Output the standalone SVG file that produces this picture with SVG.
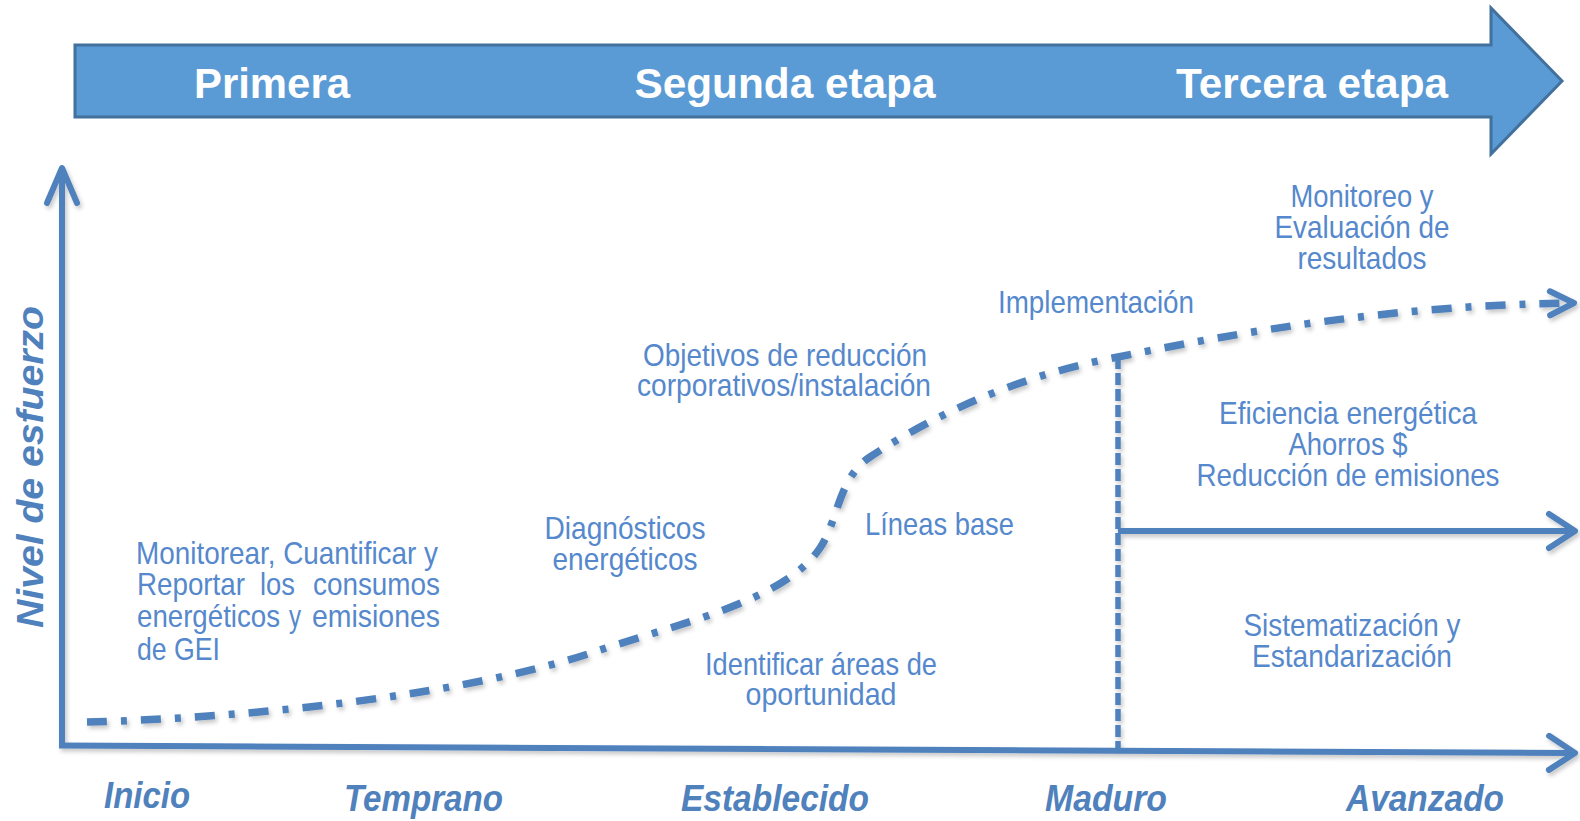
<svg xmlns="http://www.w3.org/2000/svg" width="1580" height="821" viewBox="0 0 1580 821">
  <style>
    .stage { font-family: "Liberation Sans", Arial, sans-serif; font-weight: bold; font-size: 42px; fill: #ffffff; text-anchor: middle; }
    .lbl { font-family: "Liberation Sans Narrow", "Liberation Sans", Arial, sans-serif; font-size: 32px; fill: #5588CC; }
    .mid { text-anchor: middle; }
    .axis { font-family: "Liberation Sans Narrow", "Liberation Sans", Arial, sans-serif; font-size: 37px; font-weight: bold; font-style: italic; fill: #4F81BD; }
    .ln { fill: none; stroke: #4F81BD; stroke-width: 6; }
    .curve { fill: none; stroke: #4F81BD; stroke-width: 7.5; stroke-dasharray: 20 14 6 14; }
    .vdash { fill: none; stroke: #4F81BD; stroke-width: 5.5; stroke-dasharray: 12 4; }
    .head { fill: none; stroke: #4F81BD; stroke-width: 6; stroke-linecap: round; stroke-linejoin: round; }
  </style>
  <defs>
    <filter id="sh" x="-5%" y="-5%" width="110%" height="110%">
      <feDropShadow dx="2" dy="3" stdDeviation="2" flood-color="#000000" flood-opacity="0.22"/>
    </filter>
    <marker id="chevV" markerUnits="userSpaceOnUse" markerWidth="40" markerHeight="40" refX="35" refY="15" orient="auto" overflow="visible">
      <path class="head" d="M 0 0 L 35 15 L 0 30"/>
    </marker>
    <marker id="chevH" markerUnits="userSpaceOnUse" markerWidth="40" markerHeight="40" refX="26" refY="17" orient="auto" overflow="visible">
      <path class="head" d="M 0 0 L 26 17 L 0 34"/>
    </marker>
    <marker id="chevS" markerUnits="userSpaceOnUse" markerWidth="40" markerHeight="40" refX="24" refY="12" orient="auto" overflow="visible">
      <path class="head" d="M 0 0 L 24 12 L 0 24"/>
    </marker>
  </defs>

  <rect width="1580" height="821" fill="#ffffff"/>

  <g id="banner">
    <polygon points="75,45 1491,45 1491,8 1562,81 1491,154 1491,117 75,117" fill="#5B9BD5" stroke="#41719C" stroke-width="3"/>
    <text class="stage" x="272" y="98" textLength="156" lengthAdjust="spacingAndGlyphs">Primera</text>
    <text class="stage" x="785" y="98" textLength="301" lengthAdjust="spacingAndGlyphs">Segunda etapa</text>
    <text class="stage" x="1312" y="98" textLength="272" lengthAdjust="spacingAndGlyphs">Tercera etapa</text>
  </g>

  <g id="connectors" filter="url(#sh)">
    <path id="y-axis" class="ln" d="M 62 748 L 62 168" marker-end="url(#chevV)"/>
    <path id="x-axis" class="ln" d="M 59 745.5 L 1575 753" marker-end="url(#chevH)"/>
    <path id="maduro-dash" class="vdash" d="M 1118 357 L 1118 750"/>
    <path id="mid-arrow" class="ln" d="M 1118 531 L 1575 531" marker-end="url(#chevH)"/>
    <path id="effort-curve" class="curve" d="M 87 722 C 250 718, 470 695, 600 650 C 685 622, 785 600, 820 548 C 838 522, 838 478, 870 457 C 920 424, 1005 378, 1118 357 C 1250 330, 1400 305, 1574 303" marker-end="url(#chevS)"/>
  </g>

  <g id="label-monitorear">
    <text class="lbl" x="136" y="564" textLength="302" lengthAdjust="spacingAndGlyphs">Monitorear, Cuantificar y</text>
    <text class="lbl" y="595"><tspan x="137" textLength="108" lengthAdjust="spacingAndGlyphs">Reportar</tspan><tspan x="260" textLength="35" lengthAdjust="spacingAndGlyphs">los</tspan><tspan x="313" textLength="127" lengthAdjust="spacingAndGlyphs">consumos</tspan></text>
    <text class="lbl" y="627"><tspan x="137" textLength="143" lengthAdjust="spacingAndGlyphs">energéticos</tspan><tspan x="289" textLength="12" lengthAdjust="spacingAndGlyphs">y</tspan><tspan x="312" textLength="128" lengthAdjust="spacingAndGlyphs">emisiones</tspan></text>
    <text class="lbl" x="137" y="660" textLength="83" lengthAdjust="spacingAndGlyphs">de GEI</text>
  </g>

  <g id="label-diagnosticos">
    <text class="lbl mid" x="625" y="539" textLength="161" lengthAdjust="spacingAndGlyphs">Diagnósticos</text>
    <text class="lbl mid" x="625" y="570" textLength="145" lengthAdjust="spacingAndGlyphs">energéticos</text>
  </g>

  <g id="label-identificar">
    <text class="lbl mid" x="821" y="675" textLength="232" lengthAdjust="spacingAndGlyphs">Identificar áreas de</text>
    <text class="lbl mid" x="821" y="705" textLength="151" lengthAdjust="spacingAndGlyphs">oportunidad</text>
  </g>

  <g id="label-lineas">
    <text class="lbl" x="865" y="535" textLength="149" lengthAdjust="spacingAndGlyphs">Líneas base</text>
  </g>

  <g id="label-objetivos">
    <text class="lbl mid" x="785" y="366" textLength="284" lengthAdjust="spacingAndGlyphs">Objetivos de reducción</text>
    <text class="lbl mid" x="784" y="396" textLength="294" lengthAdjust="spacingAndGlyphs">corporativos/instalación</text>
  </g>

  <g id="label-implementacion">
    <text class="lbl" x="998" y="313" textLength="196" lengthAdjust="spacingAndGlyphs">Implementación</text>
  </g>

  <g id="label-monitoreo">
    <text class="lbl mid" x="1362" y="207" textLength="143" lengthAdjust="spacingAndGlyphs">Monitoreo y</text>
    <text class="lbl mid" x="1362" y="238" textLength="175" lengthAdjust="spacingAndGlyphs">Evaluación de</text>
    <text class="lbl mid" x="1362" y="269" textLength="129" lengthAdjust="spacingAndGlyphs">resultados</text>
  </g>

  <g id="label-eficiencia">
    <text class="lbl mid" x="1348" y="424" textLength="258" lengthAdjust="spacingAndGlyphs">Eficiencia energética</text>
    <text class="lbl mid" x="1348" y="455" textLength="119" lengthAdjust="spacingAndGlyphs">Ahorros $</text>
    <text class="lbl mid" x="1348" y="486" textLength="303" lengthAdjust="spacingAndGlyphs">Reducción de emisiones</text>
  </g>

  <g id="label-sistematizacion">
    <text class="lbl mid" x="1352" y="636" textLength="217" lengthAdjust="spacingAndGlyphs">Sistematización y</text>
    <text class="lbl mid" x="1352" y="667" textLength="200" lengthAdjust="spacingAndGlyphs">Estandarización</text>
  </g>

  <g id="axis-labels">
    <text class="axis" transform="translate(43 467) rotate(-90)" text-anchor="middle" x="0" y="0" textLength="322" lengthAdjust="spacingAndGlyphs">Nivel de esfuerzo</text>
    <text class="axis" x="104" y="808" textLength="86" lengthAdjust="spacingAndGlyphs">Inicio</text>
    <text class="axis" x="344" y="811" textLength="159" lengthAdjust="spacingAndGlyphs">Temprano</text>
    <text class="axis" x="681" y="811" textLength="188" lengthAdjust="spacingAndGlyphs">Establecido</text>
    <text class="axis" x="1045" y="811" textLength="122" lengthAdjust="spacingAndGlyphs">Maduro</text>
    <text class="axis" x="1346" y="811" textLength="158" lengthAdjust="spacingAndGlyphs">Avanzado</text>
  </g>
</svg>
